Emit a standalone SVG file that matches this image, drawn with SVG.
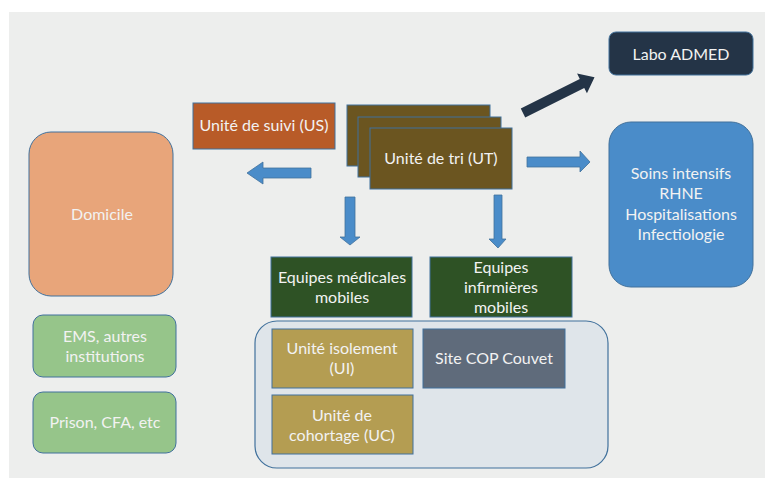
<svg xmlns="http://www.w3.org/2000/svg" width="765" height="479" viewBox="0 0 765 479">
<style>
.t{font-family:Lato,"Liberation Sans",sans-serif;font-size:16px;fill:#f2f2f2;text-anchor:middle}
.b{stroke:#41719c;stroke-width:1}
.arr{fill:#4a8cc9;stroke:#41719c;stroke-width:0.8}
</style>
<rect width="765" height="479" fill="#ffffff"/>
<rect x="9" y="12" width="756" height="466" fill="#edeeed"/>

<g id="connectors">
<polygon class="arr" points="247,173 263,162 263,168 311,168 311,178 263,178 263,184"/>
<polygon class="arr" points="527,157 580,157 580,151 590,162 580,172 580,167 527,167"/>
<polygon class="arr" points="345,197 355,197 355,237 360,237 350,245 340,237 345,237"/>
<polygon class="arr" points="494,195 502,195 502,239 506,239 498,248 489,239 494,239"/>
<polygon fill="#243447" transform="translate(523,113) rotate(-26.6)" points="0,-5 66,-5 66,-11 80,0 66,11 66,5 0,5"/>
</g>

<g id="labo"><rect class="b" x="609" y="32" width="144" height="43" rx="7" fill="#243447"/><text class="t" x="681" y="60">Labo ADMED</text></g>

<g id="us"><rect class="b" x="193" y="103" width="142" height="46" fill="#b85b28"/><text class="t" x="264" y="131">Unité de suivi (US)</text></g>

<g id="ut">
<rect class="b" x="347" y="105" width="143" height="61" fill="#6b5520"/>
<rect class="b" x="358" y="117" width="143" height="60" fill="#6b5520"/>
<rect class="b" x="370" y="128" width="142" height="61" fill="#6b5520"/>
<text class="t" x="441" y="164">Unité de tri (UT)</text>
</g>

<g id="soins"><rect class="b" x="609" y="122" width="144" height="165" rx="22" fill="#4a8cc9"/>
<text class="t" x="681" y="179">Soins intensifs</text>
<text class="t" x="681" y="199">RHNE</text>
<text class="t" x="681" y="220">Hospitalisations</text>
<text class="t" x="681" y="240">Infectiologie</text>
</g>

<g id="domicile"><rect class="b" x="29" y="132" width="144" height="164" rx="22" fill="#e8a57a"/><text class="t" x="102" y="220">Domicile</text></g>
<g id="ems"><rect class="b" x="33" y="315" width="143" height="62" rx="10" fill="#96c58a"/><text class="t" x="105" y="342">EMS, autres</text><text class="t" x="105" y="362">institutions</text></g>
<g id="prison"><rect class="b" x="33" y="392" width="143" height="61" rx="10" fill="#96c58a"/><text class="t" x="105" y="428">Prison, CFA, etc</text></g>

<g id="eq-med"><rect class="b" x="271" y="257" width="141" height="60" fill="#2e5225"/><text class="t" x="342" y="283">Equipes médicales</text><text class="t" x="342" y="303">mobiles</text></g>
<g id="eq-inf"><rect class="b" x="430" y="257" width="142" height="60" fill="#2e5225"/><text class="t" x="501" y="273">Equipes</text><text class="t" x="501" y="293">infirmières</text><text class="t" x="501" y="313">mobiles</text></g>

<g id="site-group"><rect x="255" y="321" width="353" height="147" rx="22" fill="#dfe5ea" stroke="#41719c" stroke-width="1.2"/></g>
<g id="ui"><rect class="b" x="272" y="329" width="141" height="59" fill="#b49d52"/><text class="t" x="342" y="354">Unité isolement</text><text class="t" x="342" y="374">(UI)</text></g>
<g id="cop"><rect class="b" x="423" y="329" width="142" height="59" fill="#5f6b7b"/><text class="t" x="494" y="364">Site COP Couvet</text></g>
<g id="uc"><rect class="b" x="272" y="395" width="141" height="59" fill="#b49d52"/><text class="t" x="342" y="421">Unité de</text><text class="t" x="342" y="441">cohortage (UC)</text></g>
</svg>
